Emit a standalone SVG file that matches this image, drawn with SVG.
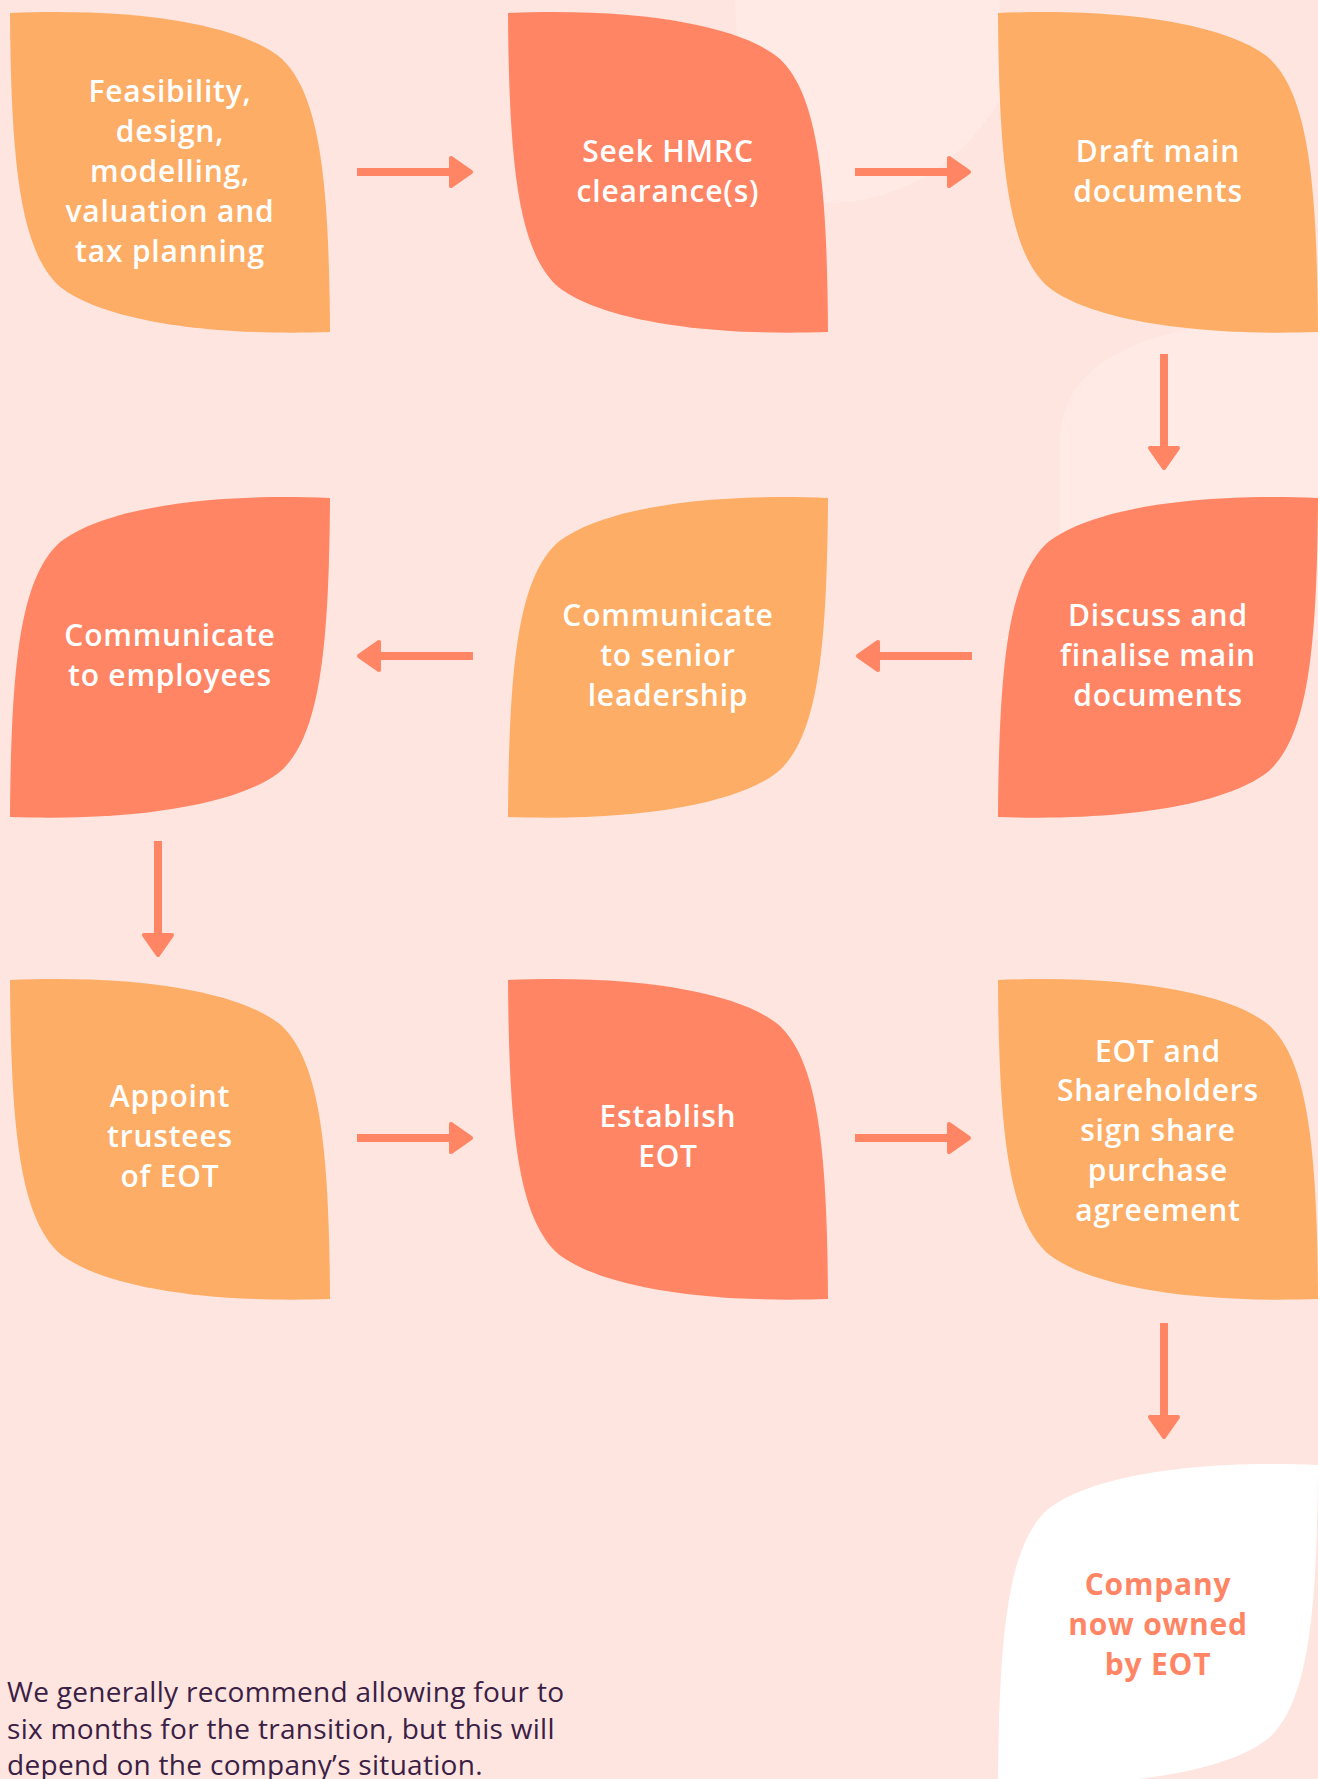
<svg xmlns="http://www.w3.org/2000/svg" xmlns:xlink="http://www.w3.org/1999/xlink" width="1318" height="1779" viewBox="0 0 1318 1779">
<style>
.bg{fill:#FEE5DF}
.blob{fill:#FFEAE5}
.orange{fill:#FDAD65}
.red{fill:#FF8564}
.white{fill:#FFFFFF}
.lbl{font-family:"Open Sans","Liberation Sans",sans-serif;font-weight:600;font-size:30px;letter-spacing:0.8px;fill:#FFFFFF;text-anchor:middle}
.lbl-end{font-family:"Open Sans","Liberation Sans",sans-serif;font-weight:700;font-size:30px;letter-spacing:0.8px;fill:#FF8564;text-anchor:middle}
.note{font-family:"Open Sans","Liberation Sans",sans-serif;font-weight:500;font-size:28px;letter-spacing:0.3px;fill:#3B2045}
.arr-line{stroke:#FF8564;stroke-width:8;fill:none}
.arr-head{fill:#FF8564;stroke:#FF8564;stroke-width:4;stroke-linejoin:round}
</style>
<defs>
<path id="leaf" d="M0,2 C150,-4 240,20 272,48 C310,85 319,170 320,321 C170,326 80,302 48,274 C10,237 1,152 0,2 Z"/>
<g id="arrow">
<line class="arr-line" x1="0" y1="0" x2="95" y2="0"/>
<polygon class="arr-head" points="94,-14 114,0 94,14"/>
</g>
</defs>
<rect class="bg" x="0" y="0" width="1318" height="1779"/>
<g id="background-blobs">
<path class="blob" d="M735,0 C738,110 775,205 835,203 C905,200 965,160 1000,100 L1000,0 Z"/>
<path class="blob" d="M1318,318 C1170,318 1062,350 1060,440 L1060,560 C1060,600 1040,620 1000,640 L1318,640 Z"/>
</g>
<g id="connectors">
<use xlink:href="#arrow" transform="translate(357,172)"/>
<use xlink:href="#arrow" transform="translate(855,172)"/>
<use xlink:href="#arrow" transform="translate(1164,354) rotate(90)"/>
<use xlink:href="#arrow" transform="translate(972,656) rotate(180)"/>
<use xlink:href="#arrow" transform="translate(473,656) rotate(180)"/>
<use xlink:href="#arrow" transform="translate(158,841) rotate(90)"/>
<use xlink:href="#arrow" transform="translate(357,1138)"/>
<use xlink:href="#arrow" transform="translate(855,1138)"/>
<use xlink:href="#arrow" transform="translate(1164,1323) rotate(90)"/>
</g>
<g id="n1">
<use xlink:href="#leaf" class="orange" transform="translate(10,11)"/>
<text class="lbl" x="170" y="102">Feasibility,</text>
<text class="lbl" x="170" y="142">design,</text>
<text class="lbl" x="170" y="182">modelling,</text>
<text class="lbl" x="170" y="222">valuation and</text>
<text class="lbl" x="170" y="262">tax planning</text>
</g>
<g id="n2">
<use xlink:href="#leaf" class="red" transform="translate(508,11)"/>
<text class="lbl" x="668" y="162">Seek HMRC</text>
<text class="lbl" x="668" y="202">clearance(s)</text>
</g>
<g id="n3">
<use xlink:href="#leaf" class="orange" transform="translate(998,11)"/>
<text class="lbl" x="1158" y="162">Draft main</text>
<text class="lbl" x="1158" y="202">documents</text>
</g>
<g id="n4">
<use xlink:href="#leaf" class="red" transform="translate(1318,496) scale(-1,1)"/>
<text class="lbl" x="1158" y="626">Discuss and</text>
<text class="lbl" x="1158" y="666">finalise main</text>
<text class="lbl" x="1158" y="706">documents</text>
</g>
<g id="n5">
<use xlink:href="#leaf" class="orange" transform="translate(828,496) scale(-1,1)"/>
<text class="lbl" x="668" y="626">Communicate</text>
<text class="lbl" x="668" y="666">to senior</text>
<text class="lbl" x="668" y="706">leadership</text>
</g>
<g id="n6">
<use xlink:href="#leaf" class="red" transform="translate(330,496) scale(-1,1)"/>
<text class="lbl" x="170" y="646">Communicate</text>
<text class="lbl" x="170" y="686">to employees</text>
</g>
<g id="n7">
<use xlink:href="#leaf" class="orange" transform="translate(10,978)"/>
<text class="lbl" x="170" y="1107">Appoint</text>
<text class="lbl" x="170" y="1147">trustees</text>
<text class="lbl" x="170" y="1187">of EOT</text>
</g>
<g id="n8">
<use xlink:href="#leaf" class="red" transform="translate(508,978)"/>
<text class="lbl" x="668" y="1127">Establish</text>
<text class="lbl" x="668" y="1167">EOT</text>
</g>
<g id="n9">
<use xlink:href="#leaf" class="orange" transform="translate(998,978)"/>
<text class="lbl" x="1158" y="1062">EOT and</text>
<text class="lbl" x="1158" y="1101">Shareholders</text>
<text class="lbl" x="1158" y="1141">sign share</text>
<text class="lbl" x="1158" y="1181">purchase</text>
<text class="lbl" x="1158" y="1221">agreement</text>
</g>
<g id="n10">
<use xlink:href="#leaf" class="white" transform="translate(1318,1463) scale(-1,1)"/>
<text class="lbl-end" x="1158" y="1595">Company</text>
<text class="lbl-end" x="1158" y="1635">now owned</text>
<text class="lbl-end" x="1158" y="1675">by EOT</text>
</g>
<g id="note">
<text class="note" x="7" y="1702">We generally recommend allowing four to</text>
<text class="note" x="7" y="1739">six months for the transition, but this will</text>
<text class="note" x="7" y="1775">depend on the company’s situation.</text>
</g>
</svg>
